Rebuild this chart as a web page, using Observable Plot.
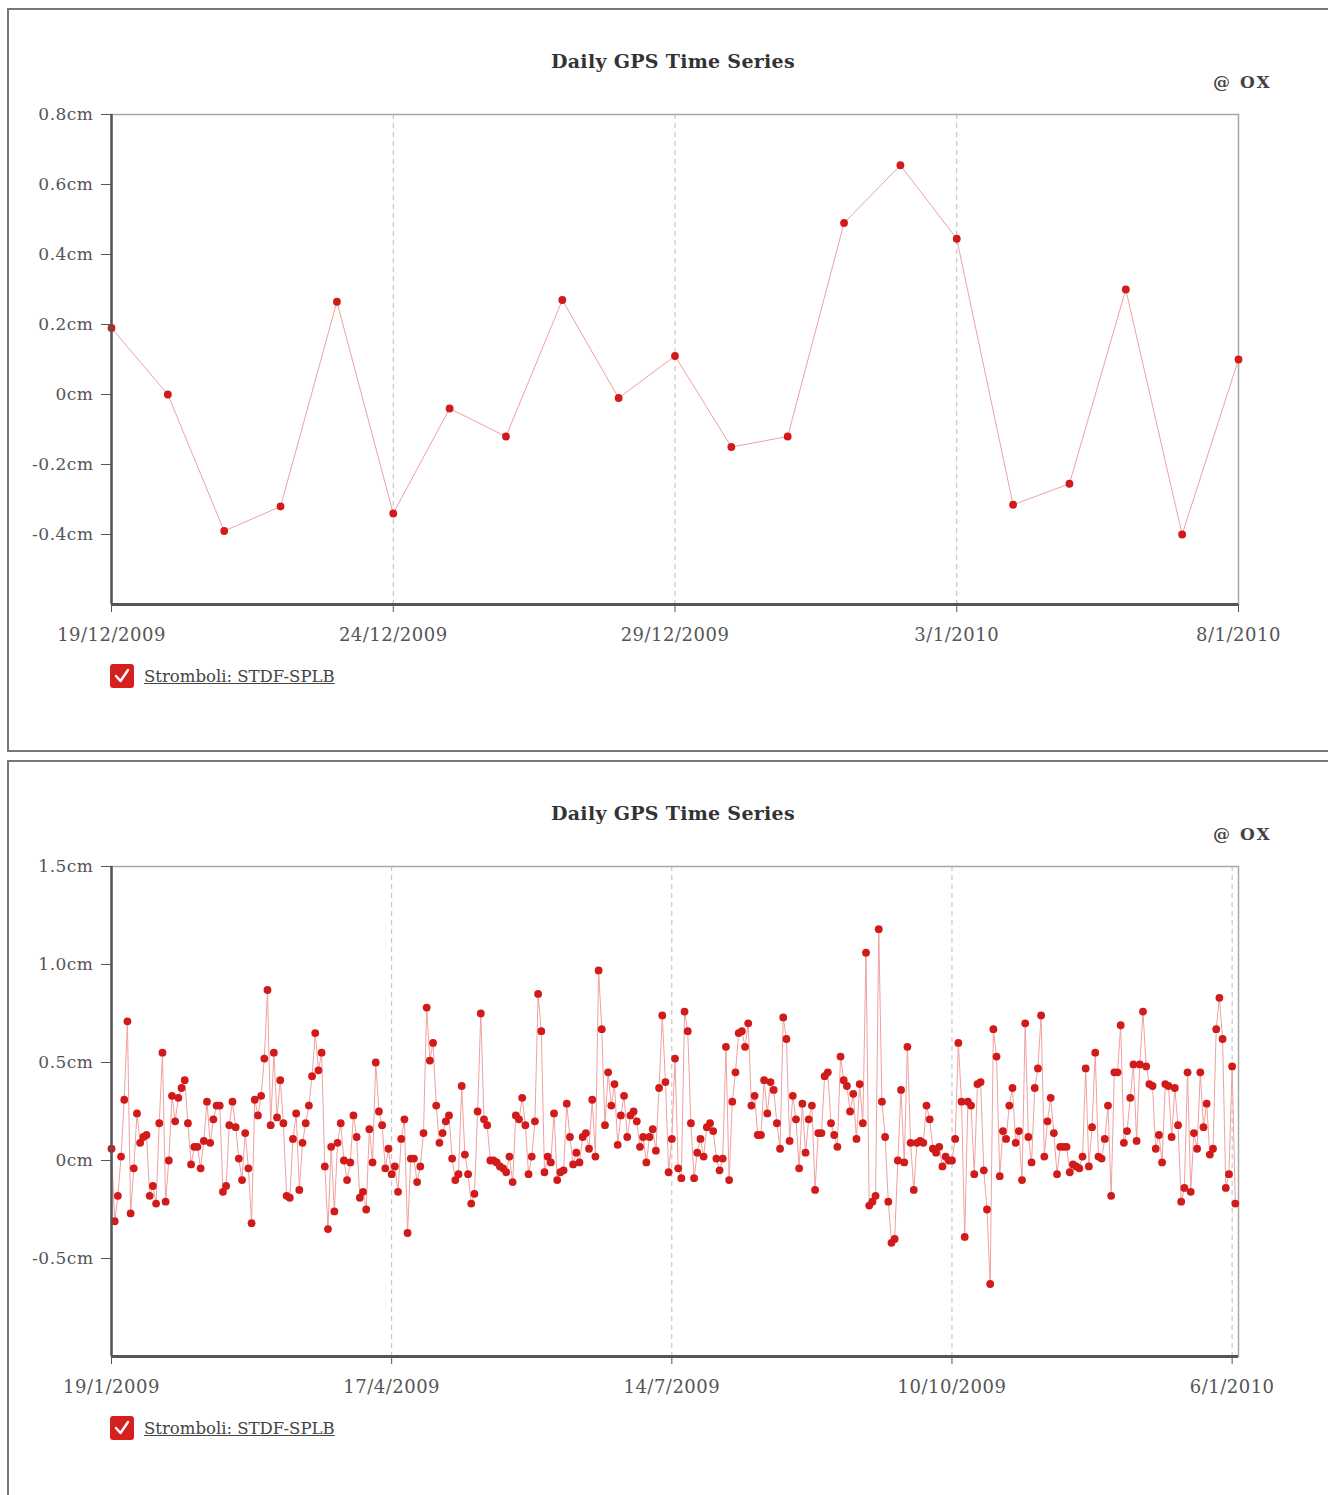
<!DOCTYPE html>
<html>
<head>
<meta charset="utf-8">
<script src="https://cdn.jsdelivr.net/npm/d3@7"></script>
<script src="https://cdn.jsdelivr.net/npm/@observablehq/plot@0.6"></script>
<style>
  html, body { margin: 0; padding: 0; background: #fff; }
  body { width: 1328px; height: 1495px; position: relative; overflow: hidden; font-family: "DejaVu Serif", serif; }
  .panel { position: absolute; left: 7px; width: 1340px; border: 2px solid #777; border-right: none; background: #fff; }
  .title { position: absolute; left: 0; width: 1346px; text-align: center; font-weight: bold; font-size: 19px; color: #333; letter-spacing: 0.3px; }
  .ox { position: absolute; left: 1213px; font-weight: bold; font-size: 17px; color: #444; letter-spacing: 2px; }
  .chart { position: absolute; left: 0; }
  .legend { position: absolute; left: 110px; display: flex; align-items: center; gap: 10px; font-size: 16.5px; color: #444; }
  .legend .box { width: 24px; height: 24px; background: #d42020; border-radius: 3px; display: flex; align-items: center; justify-content: center; }
  .legend .label { text-decoration: underline; }
  svg.chart text { letter-spacing: 0.5px; }
</style>
</head>
<body>
<script>
// ---------- Data ----------
const seriesName = "Stromboli: STDF-SPLB";
const chartTitle = "Daily GPS Time Series";
const brand = "@ OX";

// Top chart: daily values, 19/12/2009 .. 8/1/2010 (cm)
const topStart = [2009, 11, 19];
const topValues = [0.19, 0.00, -0.39, -0.32, 0.265, -0.34, -0.04, -0.12, 0.27, -0.01,
  0.11, -0.15, -0.12, 0.49, 0.655, 0.445, -0.315, -0.255, 0.30, -0.40, 0.10];
const topXTicks = [[2009, 11, 19], [2009, 11, 24], [2009, 11, 29], [2010, 0, 3], [2010, 0, 8]];
const topXDomain = [[2009, 11, 19], [2010, 0, 8]];
const topYDomain = [-0.6, 0.8];
const topYTicks = [-0.4, -0.2, 0, 0.2, 0.4, 0.6, 0.8];

// Bottom chart: daily values, 19/1/2009 .. 7/1/2010 (cm)
const bottomStart = [2009, 0, 19];
const bottomValues = [
  // Jan - Mar 2009
  0.06, -0.31, -0.18, 0.02, 0.31, 0.71, -0.27, -0.04, 0.24, 0.09,
  0.12, 0.13, -0.18, -0.13, -0.22, 0.19, 0.55, -0.21, 0.00, 0.33,
  0.20, 0.32, 0.37, 0.41, 0.19, -0.02, 0.07, 0.07, -0.04, 0.10,
  0.30, 0.09, 0.21, 0.28, 0.28, -0.16, -0.13, 0.18, 0.30, 0.17,
  0.01, -0.10, 0.14, -0.04, -0.32, 0.31, 0.23, 0.33, 0.52, 0.87,
  0.18, 0.55, 0.22, 0.41, 0.19, -0.18, -0.19, 0.11, 0.24, -0.15,
  // Mar - May 2009
  0.09, 0.19, 0.28, 0.43, 0.65, 0.46, 0.55, -0.03, -0.35, 0.07,
  -0.26, 0.09, 0.19, 0.00, -0.10, -0.01, 0.23, 0.12, -0.19, -0.16,
  -0.25, 0.16, -0.01, 0.50, 0.25, 0.18, -0.04, 0.06, -0.07, -0.03,
  -0.16, 0.11, 0.21, -0.37, 0.01, 0.01, -0.11, -0.03, 0.14, 0.78,
  0.51, 0.60, 0.28, 0.09, 0.14, 0.20, 0.23, 0.01, -0.10, -0.07,
  0.38, 0.03, -0.07, -0.22, -0.17, 0.25, 0.75, 0.21, 0.18, 0.00,
  // May - Jul 2009
  0.00, -0.01, -0.03, -0.04, -0.06, 0.02, -0.11, 0.23, 0.21, 0.32,
  0.18, -0.07, 0.02, 0.20, 0.85, 0.66, -0.06, 0.02, -0.01, 0.24,
  -0.10, -0.06, -0.05, 0.29, 0.12, -0.02, 0.04, -0.01, 0.12, 0.14,
  0.06, 0.31, 0.02, 0.97, 0.67, 0.18, 0.45, 0.28, 0.39, 0.08,
  0.23, 0.33, 0.12, 0.23, 0.25, 0.20, 0.07, 0.12, -0.01, 0.12,
  0.16, 0.05, 0.37, 0.74, 0.40, -0.06, 0.11, 0.52, -0.04, -0.09,
  // Jul - Sep 2009
  0.76, 0.66, 0.19, -0.09, 0.04, 0.11, 0.02, 0.17, 0.19, 0.15,
  0.01, -0.05, 0.01, 0.58, -0.10, 0.30, 0.45, 0.65, 0.66, 0.58,
  0.70, 0.28, 0.33, 0.13, 0.13, 0.41, 0.24, 0.40, 0.36, 0.19,
  0.06, 0.73, 0.62, 0.10, 0.33, 0.21, -0.04, 0.29, 0.04, 0.21,
  0.28, -0.15, 0.14, 0.14, 0.43, 0.45, 0.19, 0.13, 0.07, 0.53,
  0.41, 0.38, 0.25, 0.34, 0.11, 0.39, 0.19, 1.06, -0.23,
  // Sep - Nov 2009
  -0.21, -0.18, 1.18, 0.30, 0.12, -0.21, -0.42, -0.40, 0.00, 0.36,
  -0.01, 0.58, 0.09, -0.15, 0.09, 0.10, 0.09, 0.28, 0.21, 0.06,
  0.04, 0.07, -0.03, 0.02, 0.00, 0.00, 0.11, 0.60, 0.30, -0.39,
  0.30, 0.28, -0.07, 0.39, 0.40, -0.05, -0.25, -0.63, 0.67, 0.53,
  -0.08, 0.15, 0.11, 0.28, 0.37, 0.09, 0.15, -0.10, 0.70, 0.12,
  -0.01, 0.37, 0.47, 0.74, 0.02, 0.20, 0.32, 0.14, -0.07, 0.07,
  // Nov 2009 - Jan 2010
  0.07, 0.07, -0.06, -0.02, -0.03, -0.04, 0.02, 0.47, -0.03, 0.17,
  0.55, 0.02, 0.01, 0.11, 0.28, -0.18, 0.45, 0.45, 0.69, 0.09,
  0.15, 0.32, 0.49, 0.10, 0.49, 0.76, 0.48, 0.39, 0.38, 0.06,
  0.13, -0.01, 0.39, 0.38, 0.12, 0.37, 0.18, -0.21, -0.14, 0.45,
  -0.16, 0.14, 0.06, 0.45, 0.17, 0.29, 0.03, 0.06, 0.67, 0.83,
  0.62, -0.14, -0.07, 0.48, -0.22
];
const bottomXTicks = [[2009, 0, 19], [2009, 3, 17], [2009, 6, 14], [2009, 9, 10], [2010, 0, 6]];
const bottomXDomain = [[2009, 0, 19], [2010, 0, 8]];
const bottomYDomain = [-1.0, 1.5];
const bottomYTicks = [-0.5, 0, 0.5, 1.0, 1.5];

// ---------- Helpers ----------
const utc = (a) => new Date(Date.UTC(a[0], a[1], a[2]));
const DAY = 864e5;
const fmtDate = (d) => `${d.getUTCDate()}/${d.getUTCMonth() + 1}/${d.getUTCFullYear()}`;
const fmtCm = (v) => (v === 0 ? "0cm" : v.toFixed(1) + "cm");

function buildRows(start, values) {
  const t0 = utc(start).getTime();
  return values.map((v, i) => ({ date: new Date(t0 + i * DAY), value: v }));
}

function makePanel(offsetY, panelHeight, rows, xDomainArr, xTickArr, yDomain, yTicks) {
  const panel = document.createElement("div");
  panel.className = "panel";
  panel.style.top = (offsetY - 2) + "px";
  panel.style.height = panelHeight + "px";
  document.body.appendChild(panel);

  const title = document.createElement("div");
  title.className = "title";
  title.style.top = (offsetY + 40) + "px";
  title.textContent = chartTitle;
  document.body.appendChild(title);

  const ox = document.createElement("div");
  ox.className = "ox";
  ox.style.top = (offsetY + 62) + "px";
  ox.textContent = brand;
  document.body.appendChild(ox);

  const xDomain = xDomainArr.map(utc);
  const xTicks = xTickArr.map(utc);
  const gridTicks = xTicks.filter(d => d > xDomain[0] && d < xDomain[1]);

  const chart = Plot.plot({
    width: 1328,
    height: 580,
    marginLeft: 111,
    marginRight: 90,
    marginTop: 34,
    marginBottom: 56,
    style: { fontFamily: "'DejaVu Serif', serif", fontSize: "16px", color: "#555", background: "transparent", overflow: "visible" },
    x: { type: "utc", domain: xDomain, label: null },
    y: { domain: yDomain, label: null },
    marks: [
      Plot.ruleX(gridTicks, { stroke: "#bdbdbd", strokeDasharray: "5,4", strokeWidth: 1 }),
      Plot.frame({ stroke: "#a8a8a8", strokeWidth: 1.5 }),
      Plot.line(rows, { x: "date", y: "value", stroke: "#f2a0a0", strokeWidth: 1 }),
      Plot.dot(rows, { x: "date", y: "value", fill: "#d11a1a", r: 3.9 }),
      Plot.ruleX([xDomain[0]], { stroke: "#555", strokeWidth: 2.5 }),
      Plot.ruleY([yDomain[0]], { stroke: "#555", strokeWidth: 3 }),
      Plot.axisX({ ticks: xTicks, tickFormat: fmtDate, tickSize: 8, tickPadding: 16, stroke: "#555", fill: "#555", fontSize: 18 }),
      Plot.axisY({ ticks: yTicks, tickFormat: fmtCm, tickSize: 10, tickPadding: 8, stroke: "#555", fill: "#555", fontSize: 17 })
    ]
  });
  chart.classList.add("chart");
  chart.style.top = (offsetY + 70) + "px";
  chart.style.position = "absolute";
  document.body.appendChild(chart);

  const legend = document.createElement("div");
  legend.className = "legend";
  legend.style.top = (offsetY + 654) + "px";
  legend.innerHTML = '<div class="box"><svg width="18" height="18" viewBox="0 0 18 18"><path d="M3 9 L7.5 14 L15 3" fill="none" stroke="#fff" stroke-width="2.4" stroke-linecap="round" stroke-linejoin="round"/></svg></div><span class="label"></span>';
  legend.querySelector(".label").textContent = seriesName;
  document.body.appendChild(legend);
}

makePanel(10, 740, buildRows(topStart, topValues), topXDomain, topXTicks, topYDomain, topYTicks);
makePanel(762, 760, buildRows(bottomStart, bottomValues), bottomXDomain, bottomXTicks, bottomYDomain, bottomYTicks);
</script>
</body>
</html>
